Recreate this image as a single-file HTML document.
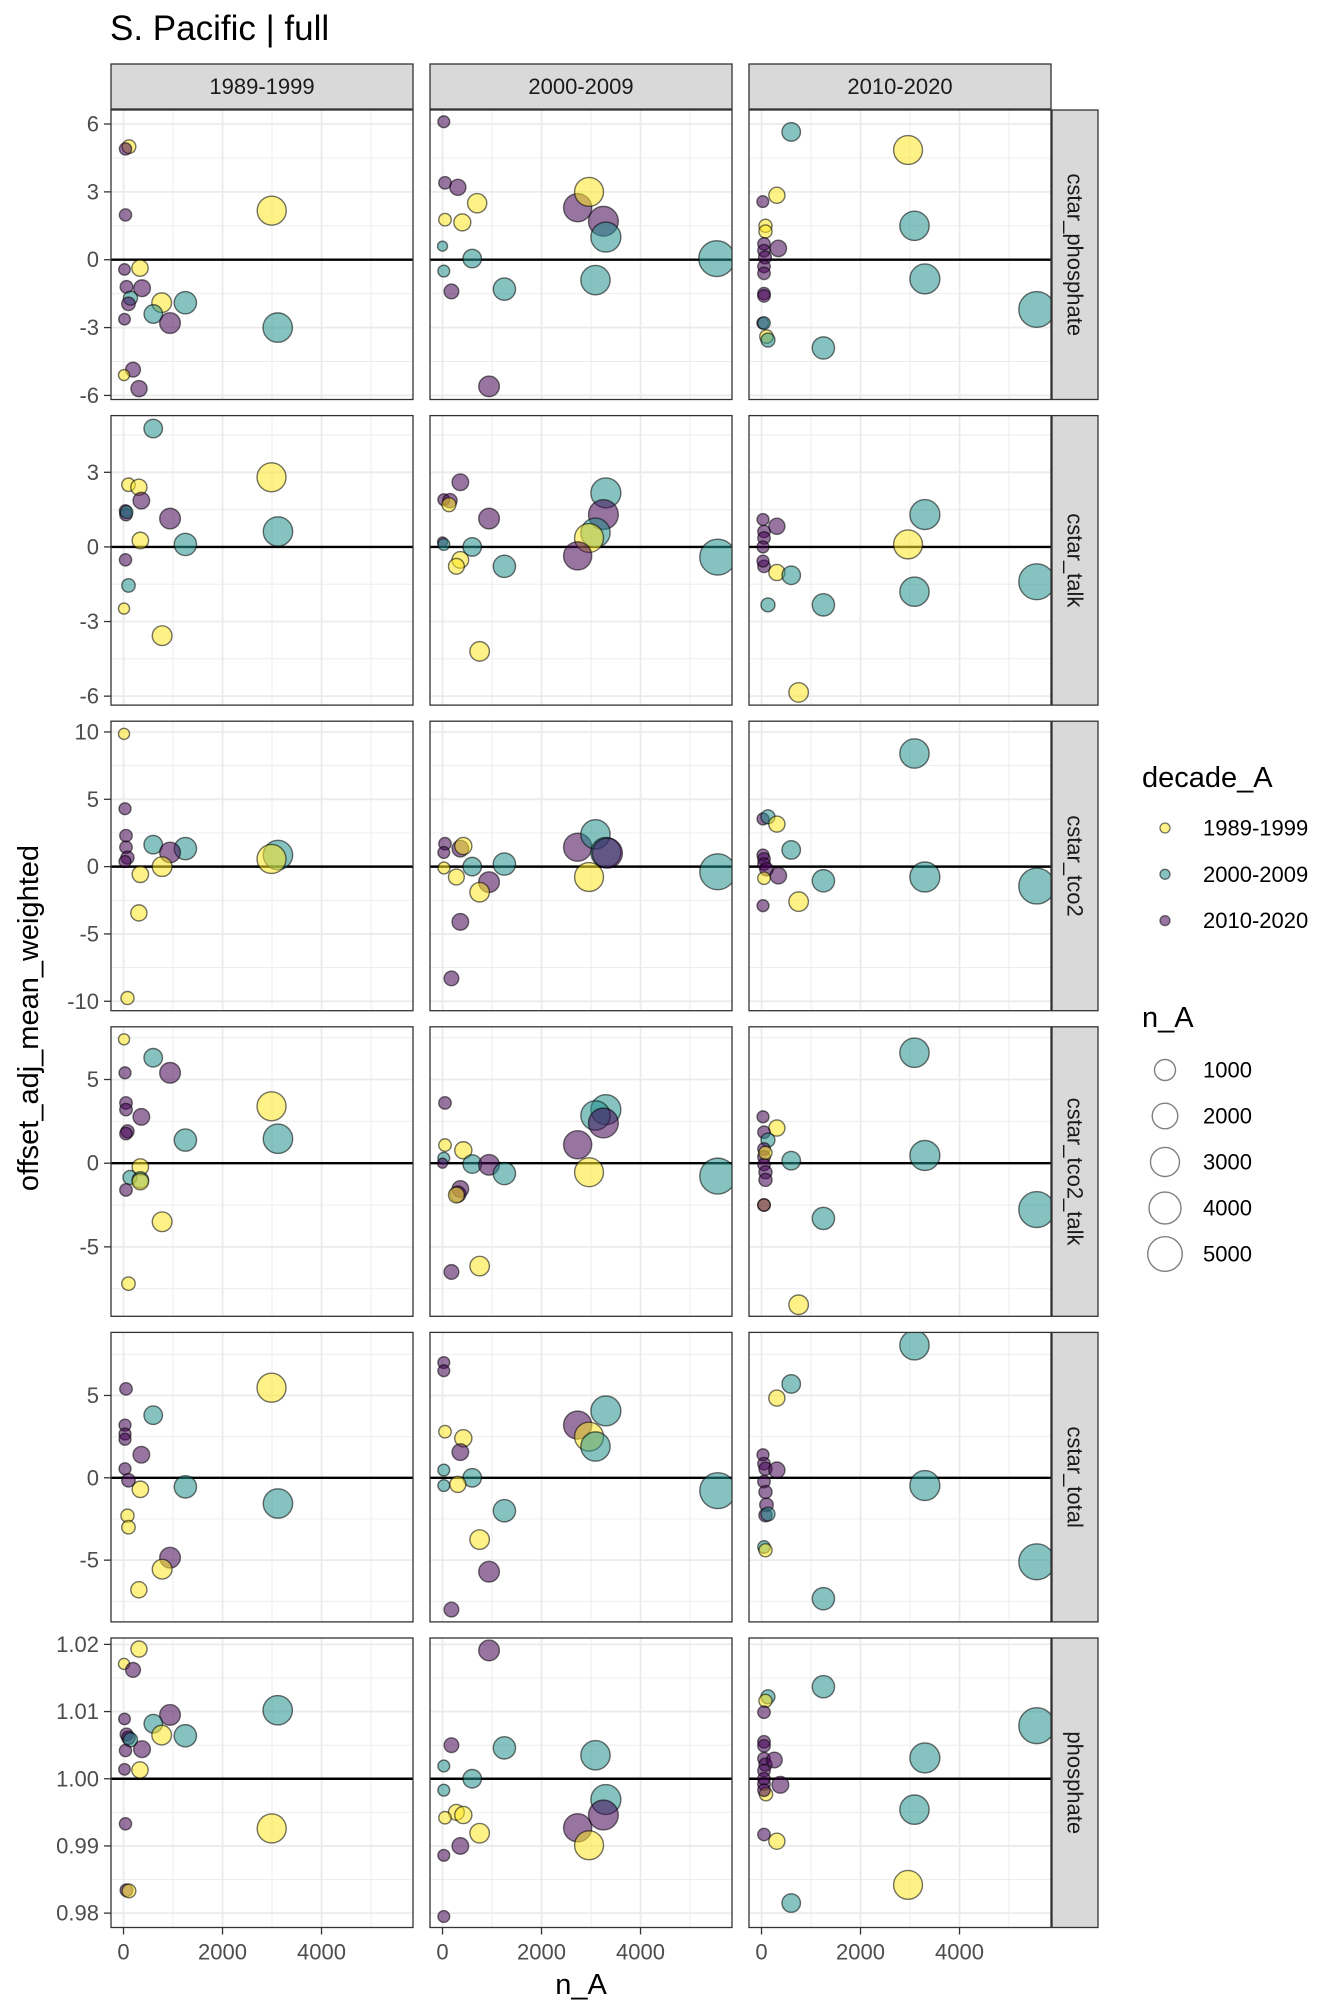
<!DOCTYPE html>
<html><head><meta charset="utf-8"><style>
body{margin:0;background:#fff;}
svg{display:block;font-family:"Liberation Sans",sans-serif;}
</style></head><body>
<svg id="chart" width="1344" height="2016" viewBox="0 0 1344 2016"></svg>
<script>
// ---- data (n_A, value, decade index 0=1989-1999,1=2000-2009,2=2010-2020) ----
const rowNames = ["cstar_phosphate","cstar_talk","cstar_tco2","cstar_tco2_talk","cstar_total","phosphate"];
const colNames = ["1989-1999","2000-2009","2010-2020"];
const decadeLabels = ["1989-1999","2000-2009","2010-2020"];
const rowDomains = [[-6.18,6.62],[-6.36,5.28],[-10.7,10.8],[-9.15,8.15],[-8.75,8.83],[0.97786,1.02095]];
const rowTicks = [[-6,-3,0,3,6],[-6,-3,0,3],[-10,-5,0,5,10],[-5,0,5],[-5,0,5],[0.98,0.99,1.00,1.01,1.02]];
const rowTickLabels = [["-6","-3","0","3","6"],["-6","-3","0","3"],["-10","-5","0","5","10"],["-5","0","5"],["-5","0","5"],["0.98","0.99","1.00","1.01","1.02"]];
const xTicks = [0,2000,4000];
const sizeLegend = [1000,2000,3000,4000,5000];

// row 1 cstar_phosphate
const N11=[111,40,40,2994,20,333,60,374,140,100,771,1249,602,939,20,3115,192,10,313];
const V11=[5.0,4.9,1.98,2.17,-0.43,-0.37,-1.2,-1.26,-1.7,-1.95,-1.9,-1.9,-2.4,-2.8,-2.63,-3.0,-4.86,-5.1,-5.7];
const D11=[0,2,2,0,2,0,2,2,1,2,0,1,1,2,2,1,2,0,2];
const N12=[26,50,310,50,400,700,0,2730,2960,3250,3300,5540,600,26,180,1250,3090,940];
const V12=[6.1,3.4,3.2,1.77,1.65,2.5,0.6,2.3,3.0,1.7,1.0,0.05,0.05,-0.5,-1.4,-1.3,-0.9,-5.6];
const D12=[2,2,2,0,0,0,1,2,0,2,1,1,1,1,2,1,1,2];
const N13=[600,2960,310,26,80,80,3090,50,50,70,340,50,50,3300,50,50,5560,26,50,100,130,1250];
const V13=[5.65,4.85,2.85,2.57,1.5,1.25,1.5,0.7,0.4,0.1,0.5,-0.3,-0.6,-0.85,-1.5,-1.6,-2.2,-2.8,-2.8,-3.4,-3.55,-3.9];
const D13=[1,0,0,2,0,0,1,2,2,2,2,2,2,1,2,2,1,2,1,0,1,1];
// row 2 cstar_talk
const N21=[600,2990,100,310,360,40,50,60,940,3120,340,1250,40,100,10,780];
const V21=[4.76,2.8,2.5,2.4,1.86,1.45,1.3,1.4,1.14,0.62,0.26,0.1,-0.52,-1.55,-2.48,-3.57];
const D21=[1,0,0,0,2,2,2,1,2,1,0,1,2,1,0,0];
const N22=[360,26,150,130,3300,3250,3090,2960,940,0,26,600,2730,360,280,1250,5560,750];
const V22=[2.6,1.9,1.86,1.7,2.17,1.3,0.57,0.36,1.14,0.2,0.1,0,-0.36,-0.52,-0.78,-0.78,-0.41,-4.2];
const D22=[2,2,2,0,1,2,1,0,2,2,1,1,2,0,0,1,1,0];
const N23=[3300,30,310,50,50,30,2960,3090,310,600,50,30,5560,130,1250,750];
const V23=[1.3,1.1,0.83,0.62,0.36,0,0.1,-1.8,-1.03,-1.14,-0.78,-0.57,-1.4,-2.33,-2.33,-5.85];
const D23=[1,2,2,2,2,2,0,1,0,1,2,2,1,1,1,0];
// row 3 cstar_tco2
const N31=[10,30,50,50,80,30,600,1250,940,3120,2990,780,340,310,80];
const V31=[9.86,4.3,2.3,1.44,0.67,0.38,1.63,1.34,1.05,0.86,0.57,0,-0.57,-3.44,-9.76];
const D31=[0,2,2,2,2,2,1,1,2,1,0,0,0,0,0];
const N32=[50,360,26,420,2730,3090,3300,3330,1250,600,30,280,2960,5560,940,750,360,180];
const V32=[1.7,1.34,1.05,1.53,1.44,2.4,1.05,1.0,0.19,0,-0.1,-0.77,-0.77,-0.38,-1.15,-1.9,-4.1,-8.3];
const D32=[2,2,2,0,2,1,1,2,1,1,0,0,0,1,2,0,2,2];
const N33=[3090,30,130,310,600,30,50,50,100,340,50,1250,3300,5560,750,30];
const V33=[8.4,3.54,3.7,3.16,1.24,0.86,0.57,0.19,-0.19,-0.67,-0.86,-1.05,-0.77,-1.44,-2.6,-2.9];
const D33=[1,2,1,0,1,2,2,2,2,2,0,1,1,1,0,2];
// row 4 cstar_tco2_talk
const N41=[10,600,940,30,2990,50,50,360,80,50,3120,1250,340,130,340,340,50,780,100];
const V41=[7.4,6.3,5.4,5.4,3.4,3.6,3.2,2.77,1.9,1.77,1.46,1.38,-0.23,-0.85,-1.0,-1.1,-1.6,-3.5,-7.2];
const D41=[0,1,2,2,0,2,2,2,2,2,1,1,0,1,1,0,2,0,0];
const N42=[50,3300,3090,3250,2730,50,420,26,0,600,940,1250,2960,5560,360,310,280,750,180];
const V42=[3.6,3.2,2.85,2.4,1.1,1.08,0.77,0.3,0,-0.05,-0.1,-0.62,-0.54,-0.77,-1.54,-1.85,-1.9,-6.15,-6.5];
const D42=[2,1,1,2,2,0,0,1,2,1,2,1,0,1,2,2,0,0,2];
const N43=[3090,30,310,50,130,50,50,50,80,80,600,3300,80,50,50,5560,1250,750];
const V43=[6.6,2.77,2.1,1.85,1.38,0.85,0.38,-0.08,-0.54,-1.0,0.15,0.46,0.62,-2.5,-2.5,-2.77,-3.3,-8.46];
const D43=[1,2,0,2,1,2,2,2,2,2,1,1,0,0,2,1,1,0];
// row 5 cstar_total
const N51=[2990,50,600,30,30,30,360,30,1250,340,100,3120,80,100,940,780,310];
const V51=[5.47,5.4,3.8,3.2,2.66,2.34,1.4,0.55,-0.55,-0.7,-0.15,-1.56,-2.3,-3.0,-4.85,-5.55,-6.8];
const D51=[0,2,1,2,2,2,2,2,1,0,2,1,0,0,2,0,0];
const N52=[26,26,3300,2730,50,420,2960,3090,360,26,26,600,310,5560,1250,750,940,180];
const V52=[7.0,6.5,4.06,3.2,2.8,2.4,2.5,1.9,1.56,0.47,-0.47,0,-0.4,-0.78,-2.0,-3.75,-5.7,-8.0];
const D52=[2,2,1,2,0,0,0,1,2,1,1,1,0,1,1,0,2,2];
const N53=[3090,600,310,30,50,80,310,50,80,100,80,130,3300,50,80,5560,1250];
const V53=[8.05,5.7,4.84,1.4,0.86,0.55,0.47,-0.23,-0.86,-1.64,-2.27,-2.2,-0.47,-4.2,-4.4,-5.1,-7.34];
const D53=[1,1,0,2,2,2,2,2,2,2,2,1,1,1,0,1,1];
// row 6 phosphate
const N61=[313,10,192,3115,939,20,602,771,1249,60,100,140,40,374,333,20,2994,40,60,110];
const V61=[1.0193,1.0171,1.0162,1.0102,1.0095,1.0089,1.0082,1.0065,1.0064,1.0066,1.0061,1.0058,1.0042,1.0044,1.0013,1.0014,0.9926,0.9933,0.9834,0.9833];
const D61=[0,0,2,1,2,2,1,0,1,2,2,1,2,2,0,2,0,2,2,0];
const N62=[940,180,1250,26,3090,600,26,3300,3250,2730,280,420,50,750,2960,360,26,26];
const V62=[1.0191,1.005,1.0046,1.0019,1.0035,1.0,0.9983,0.9969,0.9946,0.9927,0.995,0.9946,0.9942,0.9919,0.9901,0.99,0.9886,0.9795];
const D62=[2,2,1,1,1,1,1,1,2,2,0,0,0,0,0,2,2,2];
const N63=[1250,130,80,50,5560,3300,50,50,50,80,260,50,50,50,380,3090,90,50,50,310,2960,600];
const V63=[1.0137,1.0122,1.0116,1.0099,1.0079,1.0031,1.0055,1.0049,1.003,1.0021,1.0028,1.0012,1.0,0.9992,0.9991,0.9954,0.9977,0.9983,0.9917,0.9907,0.9842,0.9815];
const D63=[1,1,0,2,1,1,2,2,2,2,2,2,2,2,2,1,0,2,2,0,0,1];

const panelData = [
 [[N11,V11,D11],[N12,V12,D12],[N13,V13,D13]],
 [[N21,V21,D21],[N22,V22,D22],[N23,V23,D23]],
 [[N31,V31,D31],[N32,V32,D32],[N33,V33,D33]],
 [[N41,V41,D41],[N42,V42,D42],[N43,V43,D43]],
 [[N51,V51,D51],[N52,V52,D52],[N53,V53,D53]],
 [[N61,V61,D61],[N62,V62,D62],[N63,V63,D63]]
];

// ---- layout ----
const NS="http://www.w3.org/2000/svg";
const svg=document.getElementById('chart');
const colL=[111,430,749], PW=302, PH=289.5;
const rowT=[110,415.6,721.2,1026.8,1332.4,1638];
const xDom=[-253,5848];
const fills=["#FDE725","#21908C","#440154"];
function xS(c,n){return colL[c]+(n-xDom[0])/(xDom[1]-xDom[0])*PW;}
function yS(r,v){const d=rowDomains[r];return rowT[r]+PH-(v-d[0])/(d[1]-d[0])*PH;}
function rS(n){return 5+13*Math.sqrt(Math.max(n,0)/5600);}
function mk(tag,attrs,parent){const e=document.createElementNS(NS,tag);for(const k in attrs)e.setAttribute(k,attrs[k]);(parent||svg).appendChild(e);return e;}

// title
let t=mk('text',{x:110,y:40,'font-size':35,fill:'#000'});t.textContent='S. Pacific | full';



// column strips
for(let c=0;c<3;c++){
  const g=mk('g',{});
  
  
  mk('rect',{x:colL[c],y:64,width:PW,height:45,fill:'#d9d9d9',stroke:'#333','stroke-width':1.3},g);
  const tx=mk('text',{x:colL[c]+PW/2,y:94,'font-size':22,'text-anchor':'middle',fill:'#1a1a1a'},g);tx.textContent=colNames[c];
}

for(let r=0;r<6;r++){
  const d=rowDomains[r];
  const gs=mk('g',{});
  
  
  mk('rect',{x:1052,y:rowT[r],width:46,height:PH,fill:'#d9d9d9',stroke:'#333','stroke-width':1.3},gs);
  const cx=1075,cy=rowT[r]+PH/2;
  const st=mk('text',{x:cx,y:cy,'font-size':22,'text-anchor':'middle','dominant-baseline':'central',fill:'#1a1a1a',transform:`rotate(90 ${cx} ${cy})`},gs);st.textContent=rowNames[r];
  const tk=rowTicks[r];const step=tk[1]-tk[0];
  const minors=[];for(let i=-1;i<tk.length;i++){const m=tk[0]+step*(i+0.5);if(m>d[0]&&m<d[1])minors.push(m);}
  const ga=mk('g',{});
  
  
  tk.forEach((v,i)=>{const y=yS(r,v);
    mk('line',{x1:104,x2:111,y1:y,y2:y,stroke:'#333','stroke-width':1.3},ga);
    const l=mk('text',{x:99,y:y,'font-size':22,'text-anchor':'end','dominant-baseline':'central',fill:'#4d4d4d'},ga);l.textContent=rowTickLabels[r][i];});
  for(let c=0;c<3;c++){
    const g=mk('g',{});
    
    
    mk('rect',{x:colL[c],y:rowT[r],width:PW,height:PH,fill:'#fff'},g);
    minors.forEach(v=>{const y=yS(r,v);mk('line',{x1:colL[c],x2:colL[c]+PW,y1:y,y2:y,stroke:'#ebebeb','stroke-width':0.9},g);});
    [1000,3000,5000].forEach(v=>{const x=xS(c,v);mk('line',{x1:x,x2:x,y1:rowT[r],y2:rowT[r]+PH,stroke:'#ebebeb','stroke-width':0.9},g);});
    tk.forEach(v=>{const y=yS(r,v);mk('line',{x1:colL[c],x2:colL[c]+PW,y1:y,y2:y,stroke:'#ebebeb','stroke-width':1.8},g);});
    xTicks.forEach(v=>{const x=xS(c,v);mk('line',{x1:x,x2:x,y1:rowT[r],y2:rowT[r]+PH,stroke:'#ebebeb','stroke-width':1.8},g);});
    const z=yS(r,r===5?1:0);
    mk('line',{x1:colL[c],x2:colL[c]+PW,y1:z,y2:z,stroke:'#000','stroke-width':2.4},g);
    const cp='clip'+r+c;
    const cl=mk('clipPath',{id:cp},g);mk('rect',{x:colL[c],y:rowT[r],width:PW,height:PH},cl);
    const pts=mk('g',{'clip-path':`url(#${cp})`},g);
    const [NN,VV,DD]=panelData[r][c];
    for(let i=0;i<NN.length;i++){
      const ci=mk('circle',{cx:xS(c,NN[i]),cy:yS(r,VV[i]),r:rS(NN[i]),fill:fills[DD[i]],'fill-opacity':0.55,stroke:'#000','stroke-opacity':0.55,'stroke-width':1.4},pts);
      
      
    }
    mk('rect',{x:colL[c],y:rowT[r],width:PW,height:PH,fill:'none',stroke:'#333','stroke-width':1.3},g);
  }
}
for(let c=0;c<3;c++){
  const g=mk('g',{});
  
  
  xTicks.forEach(v=>{const x=xS(c,v);const yb=rowT[5]+PH;
    mk('line',{x1:x,x2:x,y1:yb,y2:yb+7,stroke:'#333','stroke-width':1.3},g);
    const l=mk('text',{x:x,y:1952,'font-size':22,'text-anchor':'middle','dominant-baseline':'central',fill:'#4d4d4d'},g);l.textContent=String(v);});
}
let xt=mk('text',{x:581,y:1994,'font-size':29,'text-anchor':'middle',fill:'#000'});xt.textContent='n_A';


let yt=mk('text',{x:38,y:1018,'font-size':29,'text-anchor':'middle',fill:'#000',transform:'rotate(-90 38 1018)'});yt.textContent='offset_adj_mean_weighted';



// legend decade
const lg=mk('g',{});


let lt=mk('text',{x:1142,y:778,'font-size':29,'dominant-baseline':'central',fill:'#000'},lg);lt.textContent='decade_A';
decadeLabels.forEach((s,i)=>{const y=828+46.3*i;
  const e=mk('g',{},lg);
  
  
  mk('circle',{cx:1165,cy:y,r:5,fill:fills[i],'fill-opacity':0.55,stroke:'#000','stroke-opacity':0.55,'stroke-width':1.3},e);
  const tx=mk('text',{x:1203,y:y,'font-size':22,'dominant-baseline':'central',fill:'#000'},e);tx.textContent=s;});
// legend size
const ls=mk('g',{});


let st2=mk('text',{x:1142,y:1018,'font-size':29,'dominant-baseline':'central',fill:'#000'},ls);st2.textContent='n_A';
sizeLegend.forEach((n,i)=>{const y=1070+46*i;
  const e=mk('g',{},ls);
  
  
  mk('circle',{cx:1165,cy:y,r:rS(n),fill:'none',stroke:'#000','stroke-opacity':0.5,'stroke-width':1.4},e);
  const tx=mk('text',{x:1203,y:y,'font-size':22,'dominant-baseline':'central',fill:'#000'},e);tx.textContent=String(n);});
</script>
</body></html>
